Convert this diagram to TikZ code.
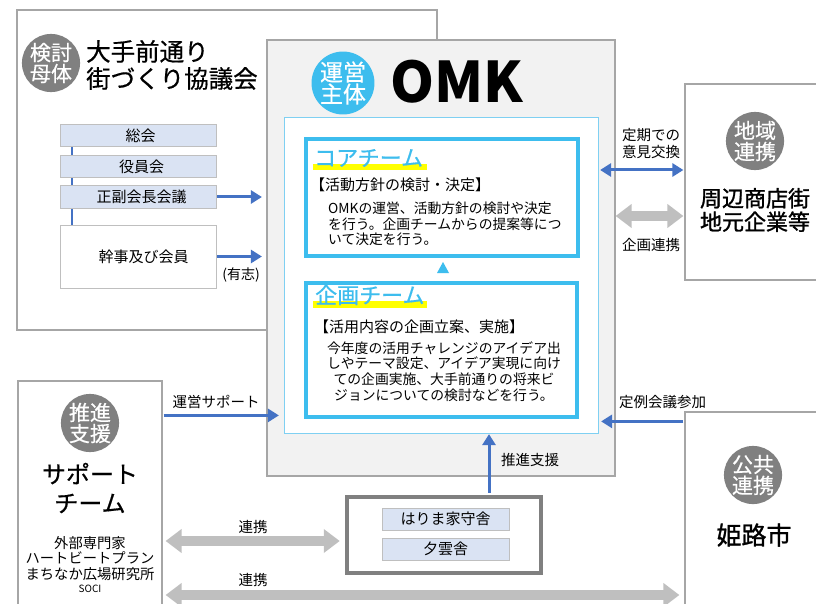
\documentclass[tikz,border=0pt]{standalone}
\usepackage{fontspec}
\setmainfont{Noto Sans CJK JP}
\newfontfamily\semib{Noto Sans CJK JP}[FakeBold=1.2]
\newfontfamily\medw{Noto Sans CJK JP}[FakeBold=0.5]
\usetikzlibrary{arrows.meta,calc}
\definecolor{sky}{HTML}{3DBDEE}
\definecolor{skylight}{HTML}{7FD0F2}
\definecolor{bluearr}{HTML}{4472C4}
\definecolor{grayarr}{HTML}{BFBFBF}
\definecolor{frame}{HTML}{A6A6A6}
\definecolor{omkfill}{HTML}{F2F2F2}
\definecolor{tagfill}{HTML}{DAE3F3}
\definecolor{tagborder}{HTML}{BFBFBF}
\definecolor{circgray}{HTML}{808080}
\definecolor{hl}{HTML}{FFFF00}
\begin{document}
\begin{tikzpicture}[x=1pt,y=-1pt,
  panel/.style={draw=frame, line width=1.2pt, fill=white, rectangle, inner sep=0pt},
  badge/.style={circle, fill=circgray, text=white, minimum size=54pt, inner sep=0pt, align=center, font=\medw\fontsize{21}{21}\selectfont},
  tagbox/.style={draw=tagborder, line width=1pt, fill=tagfill, minimum width=156pt, minimum height=22pt, inner sep=0pt, font=\fontsize{15}{15}\selectfont},
  lbl/.style={inner sep=0pt, font=\fontsize{14.5}{17}\selectfont, align=center},
  bluearrow/.style={draw=bluearr, line width=3pt, -{Triangle[length=11pt,width=13pt]}},
  bluedbl/.style={draw=bluearr, line width=3pt, {Triangle[length=11pt,width=13pt]}-{Triangle[length=11pt,width=13pt]}},
  grayarrow/.style={draw=grayarr, line width=10pt, {Triangle[length=16pt,width=23pt]}-{Triangle[length=16pt,width=23pt]}},
  body/.style={inner sep=0pt, font=\fontsize{13.8}{15.7}\selectfont}
]
\useasboundingbox (0,0) rectangle (816,604);

% ---- council box
\node[panel, minimum width=420pt, minimum height=320pt] (kyogi) at (227,170) {};
\node[badge] (kentobadge) at (51,63) {検討\\母体};
\node[anchor=west, align=left, inner sep=0pt, font=\medw\fontsize{24.5}{27}\selectfont] (kyogititle) at (86,65) {大手前通り\\街づくり協議会};
\node[tagbox] (sokai) at (138.5,136) {\hspace{4pt}総会};
\draw[bluearr, line width=1.5pt] ([xshift=12pt]sokai.south west) -- ++(0,80);
\node[tagbox] (yakuin) at (138.5,166.5) {\hspace{6pt}役員会};
\node[tagbox] (seifuku) at (138.5,197) {\hspace{6pt}正副会長会議};
\node[tagbox, fill=white, minimum height=63pt] (kanji) at (138.5,256.5) {\hspace{10pt}幹事及び会員};
\node[lbl, font=\fontsize{14}{14}\selectfont] (yushi) at (241,275) {(有志)};

% ---- OMK box
\node[panel, fill=omkfill, minimum width=348pt, minimum height=436pt] (omk) at (441,258) {};
\node[badge, fill=sky, minimum size=60pt, font=\medw\fontsize{23}{22}\selectfont] (omkbadge) at (343,83) {運営\\主体};
\node[inner sep=0pt, font=\fontsize{56}{56}\selectfont\bfseries] (omktitle) at (457,82) {OMK};
\node[draw=skylight, line width=1.2pt, fill=white, minimum width=314pt, minimum height=316pt, inner sep=0pt] (inner) at (441.5,275.5) {};

% core team
\node[draw=sky, line width=4pt, fill=white, minimum width=272pt, minimum height=117pt, inner sep=0pt] (core) at (442,197.5) {};
\fill[hl] (313,164) rectangle (427,170);
\node[anchor=west, text=sky, inner sep=0pt, font=\medw\fontsize{22}{22}\selectfont] (coretitle) at (314,158) {コアチーム};
\node[anchor=west, inner sep=0pt, font=\fontsize{15}{15}\selectfont] (coresub) at (310,185) {【活動方針の検討・決定】};
\node[body, anchor=west, align=left] (corebody) at (328,224) {OMKの運営、活動方針の検討や決定\\を行う。企画チームからの提案等につ\\いて決定を行う。};

\fill[sky] (437,273) -- (449,273) -- (443,262) -- cycle;

% planning team
\node[draw=sky, line width=4pt, fill=white, minimum width=271pt, minimum height=134pt, inner sep=0pt] (kikaku) at (441.5,350) {};
\fill[hl] (313,301) rectangle (427,308);
\node[anchor=west, text=sky, inner sep=0pt, font=\medw\fontsize{22}{22}\selectfont] (kikakutitle) at (315,295) {企画チーム};
\node[anchor=west, inner sep=0pt, font=\fontsize{15}{15}\selectfont] (kikakusub) at (314,327) {【活用内容の企画立案、実施】};
\node[body, align=center] (kikakubody) at (444,371.5) {今年度の活用チャレンジのアイデア出\\しやテーマ設定、アイデア実現に向け\\ての企画実施、大手前通りの将来ビ\\ジョンについての検討などを行う。};

% ---- shopping street box
\node[panel, minimum width=150pt, minimum height=196pt] (shuhen) at (760,182) {};
\node[badge] (chiikibadge) at (755,141) {地域\\連携};
\node[inner sep=0pt, align=center, font=\semib\fontsize{22}{23.5}\selectfont] (shuhentitle) at (755,210) {周辺商店街\\地元企業等};

% ---- Himeji city box
\node[panel, minimum width=150pt, minimum height=210pt] (himeji) at (760,517) {};
\node[badge] (kokyobadge) at (753,475) {公共\\連携};
\node[inner sep=0pt, font=\semib\fontsize{25}{25}\selectfont] (himejititle) at (754,535) {姫路市};

% ---- support team box
\node[panel, minimum width=144pt, minimum height=240pt] (support) at (90,501) {};
\node[badge] (suishinbadge) at (90,423) {推進\\支援};
\node[inner sep=0pt, align=center, font=\medw\fontsize{24}{29}\selectfont] (supporttitle) at (90,488) {サポート\\チーム};
\node[inner sep=0pt, align=center, font=\fontsize{14.3}{15.5}\selectfont] (members) at (90,558.5) {外部専門家\\ハートビートプラン\\まちなか広場研究所};
\node[inner sep=0pt, font=\fontsize{10}{10}\selectfont] (soci) at (90,589) {SOCI};

% ---- yamori box
\node[draw=circgray, line width=4.5pt, fill=white, minimum width=194pt, minimum height=76pt, inner sep=0pt] (yamori) at (444,535) {};
\node[tagbox, minimum width=127pt] (harima) at (445.5,519) {はりま家守舎};
\node[tagbox, minimum width=127pt] (yuun) at (445.5,549) {夕雲舎};

% ---- connectors
\draw[bluearrow, shorten >=4.5pt] (seifuku.east) -- (seifuku.east -| omk.west);
\draw[bluearrow, shorten >=4.5pt] (kanji.east) -- (kanji.east -| omk.west);

\coordinate (teiki) at ([yshift=12pt]shuhen.west);
\draw[bluedbl, shorten <=1pt, shorten >=1pt] (teiki) -- (teiki -| inner.east);
\node[lbl] (teikilabel) at (651,143.5) {定期での\\意見交換};

\coordinate (kikakurenkei) at ([yshift=-34pt]shuhen.west);
\draw[grayarrow, shorten <=1pt] (kikakurenkei) -- (kikakurenkei -| omk.east);
\node[lbl] (kikakulabel) at (651,245) {企画連携};

\coordinate (teirei) at ([yshift=-10pt]himeji.north west);
\draw[bluearrow, shorten <=1pt, shorten >=2pt] (teirei) -- (teirei -| inner.east);
\node[lbl, anchor=west] (teireilabel) at (619,402) {定例会議参加};

\coordinate (unei) at ([yshift=-35pt]support.north east);
\draw[bluearrow, shorten <=1pt, shorten >=5pt] (unei) -- (unei -| inner.west);
\node[lbl] (uneilabel) at (216,402) {運営サポート};

\draw[bluearrow, shorten <=2pt] ([xshift=45pt]yamori.north) -- ([xshift=45pt]yamori.north |- inner.south);
\node[lbl] (suishinlabel) at (530,460) {推進支援};

\coordinate (renkei1) at ([yshift=-6pt]yamori.west);
\draw[grayarrow, shorten <=5pt, shorten >=3pt] (renkei1) -- (renkei1 -| support.east);
\node[lbl] (renkei1label) at (253,527) {連携};

\coordinate (renkei2) at ([yshift=-94pt]support.east);
\draw[grayarrow, shorten <=3pt, shorten >=5pt] (renkei2) -- (renkei2 -| himeji.west);
\node[lbl] (renkei2label) at (253,580) {連携};
\end{tikzpicture}
\end{document}
